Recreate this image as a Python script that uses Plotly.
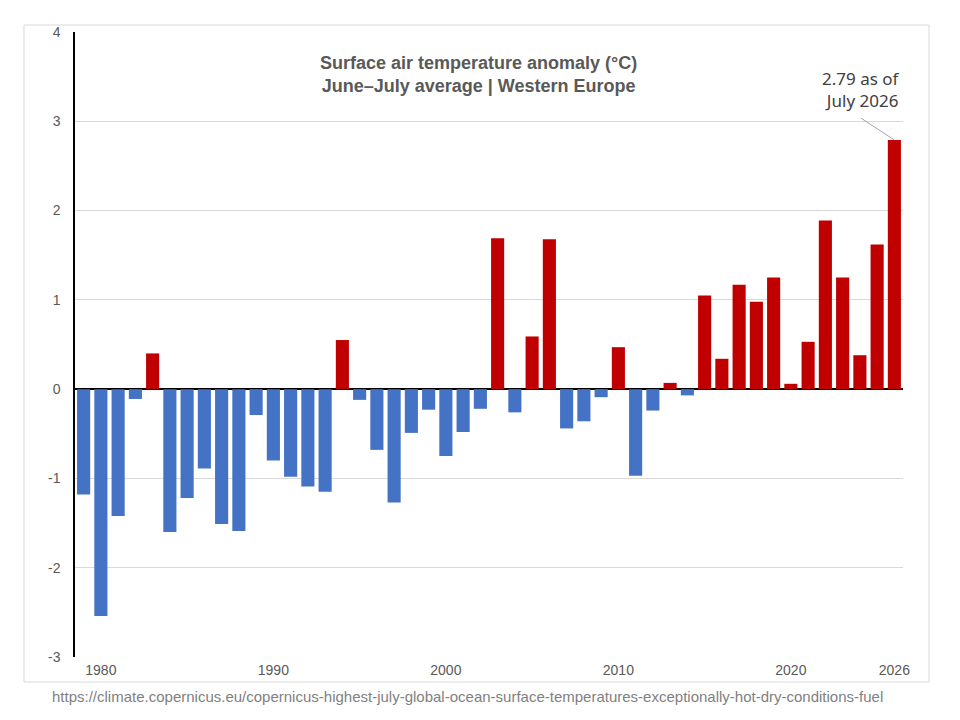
"""
Surface air temperature anomaly, June-July average, Western Europe.
Bar chart, red above zero and blue below.
"""

import plotly.graph_objects as go

years = list(range(1979, 2027))
anomaly = [
    -1.18, -2.54, -1.42, -0.11, 0.40, -1.60, -1.22, -0.89, -1.51, -1.59,
    -0.29, -0.80, -0.98, -1.09, -1.15, 0.55, -0.12, -0.68, -1.27, -0.49,
    -0.23, -0.75, -0.48, -0.22, 1.69, -0.26, 0.59, 1.68, -0.44, -0.36,
    -0.09, 0.47, -0.97, -0.24, 0.07, -0.07, 1.05, 0.34, 1.17, 0.98,
    1.25, 0.06, 0.53, 1.89, 1.25, 0.38, 1.62, 2.79,
]
x_ticks = [1980, 1990, 2000, 2010, 2020, 2026]
y_ticks = [-3, -2, -1, 0, 1, 2, 3, 4]

BLUE = "#4472c4"
RED = "#c00000"
GREY = "#595959"

colors = [RED if v > 0 else BLUE for v in anomaly]

fig = go.Figure()
fig.add_trace(go.Bar(
    x=years, y=anomaly,
    marker=dict(color=colors, line=dict(width=0)),
    hovertemplate="%{x}: %{y:.2f} °C<extra></extra>",
))

# page body adds an 8px margin, so figure is 952x712
fig.update_layout(
    width=952, height=712,
    paper_bgcolor="white", plot_bgcolor="white",
    font=dict(family="Liberation Sans Narrow, Liberation Sans, Arial", size=14, color=GREY),
    margin=dict(l=67, r=57, t=24, b=63),
    bargap=0.24,
    showlegend=False,
    xaxis=dict(
        range=[1978.5, 2026.5], tickvals=x_ticks,
        ticktext=[str(t) for t in x_ticks],
        showgrid=False, showline=False, zeroline=False,
        ticks="", ticklabelstandoff=3,
    ),
    yaxis=dict(
        range=[-3, 4], tickvals=y_ticks,
        ticktext=[str(t) for t in y_ticks],
        gridcolor="#d9d9d9", gridwidth=1,
        showline=True, linecolor="black", linewidth=1.5,
        zeroline=True, zerolinecolor="black", zerolinewidth=1.5,
        ticks="", ticklabelstandoff=10,
    ),
)

# outer chart frame
fig.add_shape(
    type="rect", xref="paper", yref="paper",
    x0=-0.0616, x1=1.0314, y0=-0.04, y1=1.0112,
    line=dict(color="#d9d9d9", width=1), fillcolor="rgba(0,0,0,0)",
    layer="below",
)

# title inside the plot area
fig.add_annotation(
    xref="paper", yref="paper", x=0.487, y=0.97,
    xanchor="center", yanchor="top", showarrow=False,
    text="<b>Surface air temperature anomaly (°C)<br>June–July average | Western Europe</b>",
    font=dict(family="Liberation Sans, Arial", size=18, color=GREY),
)

# latest value callout
fig.add_annotation(
    xref="paper", yref="paper", x=0.999, y=0.948,
    xanchor="right", yanchor="top", showarrow=False, align="right",
    text=f"{anomaly[-1]:.2f} as of<br>July {years[-1]}",
    font=dict(family="Noto Sans", size=17, color="#404040"),
)
fig.add_annotation(
    x=years[-1], y=anomaly[-1], text="",
    showarrow=True, arrowhead=0, arrowwidth=1, arrowcolor="#a6a6a6",
    ax=-35, ay=-23, standoff=0,
)

# source line
fig.add_annotation(
    xref="paper", yref="paper", x=0.474, y=-0.046,
    xanchor="center", yanchor="top", showarrow=False,
    text="https://climate.copernicus.eu/copernicus-highest-july-global-ocean-surface-temperatures-exceptionally-hot-dry-conditions-fuel",
    font=dict(family="Liberation Sans Narrow, Liberation Sans, Arial", size=15, color="#7f7f7f"),
)

fig.write_html("out.html")
